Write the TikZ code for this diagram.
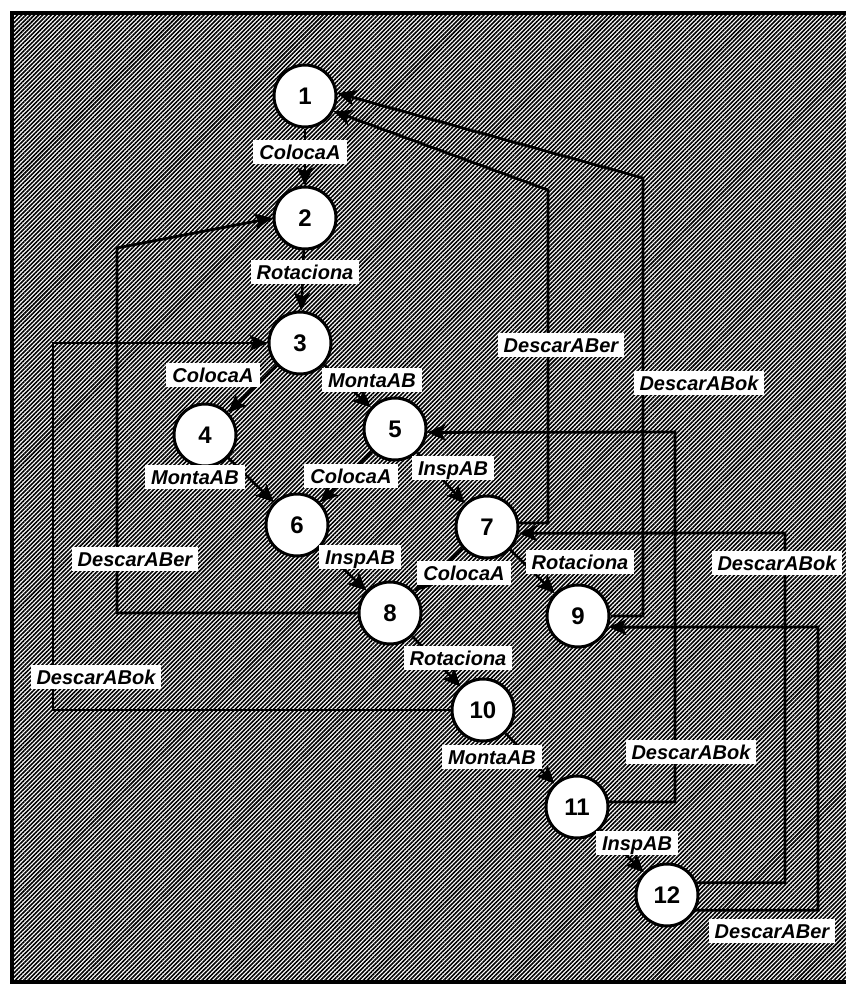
\documentclass[tikz,border=0pt]{standalone}
\usepackage{fontspec}
\setmainfont{Liberation Sans}
\usetikzlibrary{arrows.meta,patterns.meta}
\tikzset{
  >={Stealth[length=9pt,width=8pt,inset=2pt]},
  hachura/.style={pattern={Lines[angle=45,distance=1.5pt,line width=0.8pt]},
                  pattern color=black},
  moldura/.style={draw=black, line width=1.6pt},
  estado/.style={circle, draw=black, fill=white, line width=1.5pt,
                 minimum size=31pt, inner sep=0pt,
                 font=\bfseries\fontsize{12}{14}\selectfont},
  rotulo/.style={fill=white, inner xsep=3pt, inner ysep=2pt,
                 text height=7.6pt, text depth=0.6pt,
                 font=\bfseries\itshape\fontsize{10}{12}\selectfont},
  arco/.style={->, line width=1.3pt},
  volta/.style={->, line width=1.4pt},
}

\begin{document}
\begin{tikzpicture}[x=0.5pt,y=-0.5pt]

  \useasboundingbox (0,0) rectangle (846,987);
  \path[hachura] (12,13) rectangle (846,982);
  \draw[moldura] (846,13) -- (12,13) -- (12,982) -- (846,982);

  \node[estado] (n1)  at (305,96)  {1};
  \node[estado] (n2)  at (305,218) {2};
  \node[estado] (n3)  at (300,343) {3};
  \node[estado] (n4)  at (205,435) {4};
  \node[estado] (n5)  at (395,429) {5};
  \node[estado] (n6)  at (297,525) {6};
  \node[estado] (n7)  at (487,527) {7};
  \node[estado] (n8)  at (390,613) {8};
  \node[estado] (n9)  at (578,616) {9};
  \node[estado] (n10) at (483,710) {10};
  \node[estado] (n11) at (577,807) {11};
  \node[estado] (n12) at (667,895) {12};

  \draw[arco] (n1) -- (n2);
  \draw[arco] (n2) -- (n3);
  \draw[arco] (n3) -- (n4);
  \draw[arco] (n3) -- (n5);
  \draw[arco] (n4) -- (n6);
  \draw[arco] (n5) -- (n6);
  \draw[arco] (n5) -- (n7);
  \draw[arco] (n6) -- (n8);
  \draw[arco] (n7) -- (n8);
  \draw[arco] (n7) -- (n9);
  \draw[arco] (n8) -- (n10);
  \draw[arco] (n10) -- (n11);
  \draw[arco] (n11) -- (n12);

  % descargas: caminhos de volta
  \coordinate (c71)  at (548,190);
  \coordinate (c91)  at (643,178);
  \coordinate (c82)  at (117,248);
  \coordinate (c103) at (53,343);
  \coordinate (c115) at (675,432);
  \coordinate (c127) at (785,533);
  \coordinate (c129) at (818,627);

  \draw[volta] (n7.7) -| (c71) -- (n1.-28);
  \draw[volta] (n9.east) -| (c91) -- (n1.5);
  \draw[volta] (n8.west) -| (c82) -- (n2.west);
  \draw[volta] (n10.west) -| (c103) -- (n3.west);
  \draw[volta] (n11.9) -| (c115) -- (n5.-6);
  \draw[volta] (n12.22) -| (c127) -- (n7.-11);
  \draw[volta] (n12.-28) -| (c129) -- (n9.-20);

  \node[rotulo] (l12)  at (300,152) {ColocaA};
  \node[rotulo] (l23)  at (305,272) {Rotaciona};
  \node[rotulo] (l34)  at (213,375) {ColocaA};
  \node[rotulo] (l35)  at (372,380) {MontaAB};
  \node[rotulo] (l46)  at (195,477) {MontaAB};
  \node[rotulo] (l56)  at (351,476) {ColocaA};
  \node[rotulo] (l57)  at (453,468) {InspAB};
  \node[rotulo] (l68)  at (360,557) {InspAB};
  \node[rotulo] (l78)  at (464,573) {ColocaA};
  \node[rotulo] (l79)  at (580,562) {Rotaciona};
  \node[rotulo] (l810) at (458,658) {Rotaciona};
  \node[rotulo] (l1011) at (492,757) {MontaAB};
  \node[rotulo] (l1112) at (637,843) {InspAB};

  \node[rotulo] (l71)  at (561,345) {DescarABer};
  \node[rotulo] (l91)  at (699,383) {DescarABok};
  \node[rotulo] (l82)  at (135,559) {DescarABer};
  \node[rotulo] (l103) at (96,677)  {DescarABok};
  \node[rotulo] (l115) at (691,752) {DescarABok};
  \node[rotulo] (l127) at (777,563) {DescarABok};
  \node[rotulo] (l129) at (772,931) {DescarABer};

\end{tikzpicture}
\end{document}
